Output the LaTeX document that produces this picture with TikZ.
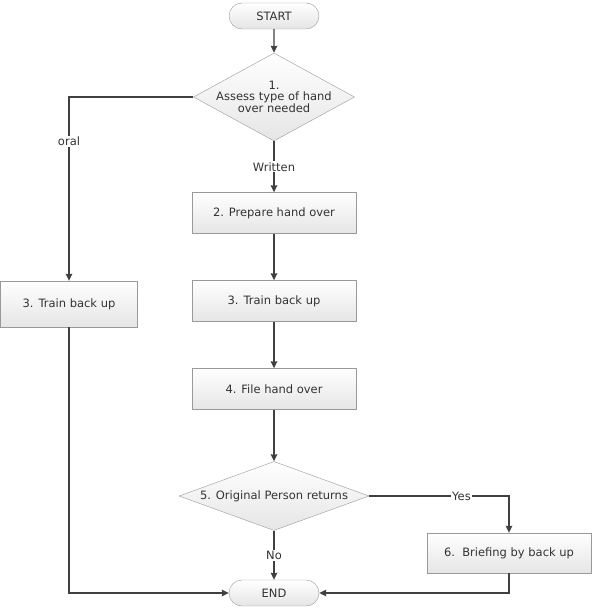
\documentclass[tikz,border=0pt]{standalone}
\usepackage{fontspec}
\setmainfont{DejaVu Sans}
\usepackage{tikz}
\usetikzlibrary{arrows,arrows.meta,positioning,shapes,calc}

\begin{document}
\begin{tikzpicture}[
      x=1pt,y=1pt,
      >={Stealth[length=7pt,width=6.5pt,inset=0.5pt]},
      font=\fontsize{11.5}{10.5}\selectfont,
      every node/.append style={text=black!80},
      shade/.style={top color=white,bottom color=black!10,draw=black!40},
      term/.style={shade,rounded rectangle,minimum width=90,minimum height=26,inner sep=0},
      task/.style={shade,rectangle,minimum width=164,minimum height=41,inner sep=0},
      decide/.style={shade,diamond,inner sep=-4pt,align=center},
      flow/.style={->,draw=black!75,line width=1.2pt},
      lbl/.style={fill=white,inner sep=1pt}
    ]
    \useasboundingbox (0,0) rectangle (592,-609);
    \node[term] (start) at (274,-16) {START};
    \node[decide,shape aspect=1.83,minimum width=161,minimum height=88] (d1) at (274,-97)
      {1.\\Assess type of hand\\over needed};
    \node[task] (prep) at (274,-213) {2. Prepare hand over};
    \node[task] (train) at (274,-301) {3. Train back up};
    \node[task] (file) at (274,-389) {4. File hand over};
    \node[decide,shape aspect=2.75,minimum width=190,minimum height=69] (d5) at (274,-496)
      {5. Original Person returns};
    \node[task,minimum width=137,minimum height=46] (trainl) at (69,-304) {3. Train back up};
    \node[task,minimum height=40] (brief) at (509,-553) {6.\ \ Briefing by back up};
    \node[term] (end) at (274,-593) {END};
    % connectors
    \draw[flow] (start) -- (d1);
    \draw[flow] (d1.west) -| node[lbl,pos=0.62] {oral} (trainl.north);
    \draw[flow] (d1.south) -- node[lbl] {Written} (prep.north);
    \draw[flow] (prep) -- (train);
    \draw[flow] (train) -- (file);
    \draw[flow] (file) -- (d5.north);
    \draw[flow] (d5.east) -| node[lbl,pos=0.33] {Yes} (brief.north);
    \draw[flow] (d5.south) -- node[lbl] {No} (end.north);
    \draw[flow] (trainl.south) |- (end.west);
    \draw[flow] (brief.south) |- (end.east);
  \end{tikzpicture}
\end{document}
